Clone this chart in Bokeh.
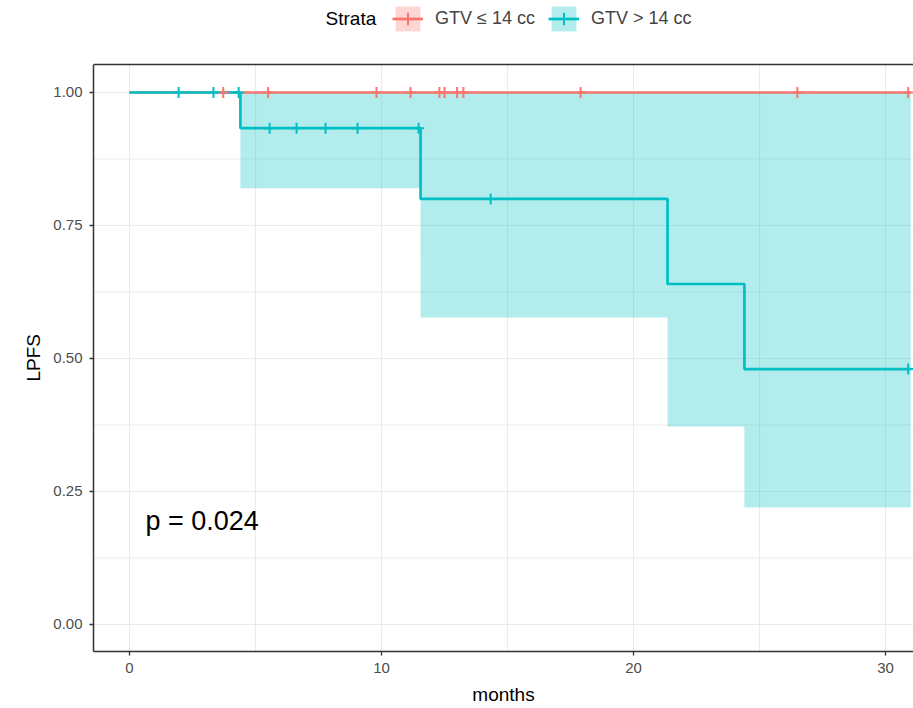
import numpy as np
from bokeh.plotting import figure
from bokeh.models import (Legend, LegendItem, FixedTicker, Range1d, Label, Span, Title)
from bokeh.embed import file_html
from bokeh.resources import INLINE

# ---------------- data ----------------
strata_title = "Strata"
strata = ["GTV ≤ 14 cc", "GTV > 14 cc"]

# GTV <= 14 cc
low_time = [0.0, 31.0]
low_surv = [1.0, 1.0]
low_lower = [1.0, 1.0]
low_upper = [1.0, 1.0]
low_censor = [3.72, 5.5, 9.8, 11.15, 12.3, 12.5, 13.0, 13.25, 17.9, 26.5, 30.9]

# GTV > 14 cc
high_time = [0.0, 4.4, 11.55, 21.35, 24.4, 31.0]
high_surv = [1.0, 0.933, 0.8, 0.64, 0.48, 0.48]
high_lower = [1.0, 0.82, 0.577, 0.372, 0.22, 0.22]
high_upper = [1.0, 1.0, 1.0, 1.0, 1.0, 1.0]
high_censor = [1.95, 3.33, 4.33, 5.56, 6.63, 7.78, 9.05, 11.47, 14.33, 30.9]

x_ticks = [0, 10, 20, 30]
y_ticks = [0.0, 0.25, 0.5, 0.75, 1.0]
y_tick_labels = ["0.00", "0.25", "0.50", "0.75", "1.00"]
x_label = "months"
y_label = "LPFS"
p_value_text = "p = 0.024"
p_value_pos = (0.63, 0.195)

# ---------------- style / layout ----------------
RED = "#F8766D"
TEAL = "#00BFC4"
FONT = "Liberation Sans"
BORDER = "#333333"
GRID = "#EBEBEB"

X_START, X_END = -1.4286, 31.11
Y_START, PANEL_TOP, CANVAS_TOP = -0.0508, 1.0526, 1.1729   # panel top; extra room above holds the legend

def surv_at(times, surv, t):
    idx = np.searchsorted(np.asarray(times), np.asarray(t), side="right") - 1
    return list(np.asarray(surv)[idx])

p = figure(width=913, height=708, output_backend="svg", toolbar_location=None,
           x_range=Range1d(X_START, X_END), y_range=Range1d(Y_START, CANVAS_TOP),
           min_border_left=93, min_border_right=0, min_border_top=0, min_border_bottom=57)
p.outline_line_color = None
p.background_fill_color = "white"
p.border_fill_color = "white"
p.grid.visible = False

x_minor = list((np.array(x_ticks[:-1]) + np.array(x_ticks[1:])) / 2)
y_minor = list((np.array(y_ticks[:-1]) + np.array(y_ticks[1:])) / 2)

p.xaxis.ticker = FixedTicker(ticks=x_ticks, minor_ticks=x_minor)
p.yaxis.ticker = FixedTicker(ticks=y_ticks, minor_ticks=y_minor)
p.yaxis.major_label_overrides = {t: l for t, l in zip(y_ticks, y_tick_labels)}
p.yaxis.bounds = (Y_START, PANEL_TOP)

for ax in (p.xaxis[0], p.yaxis[0]):
    ax.axis_line_color = BORDER
    ax.axis_line_width = 1.5
    ax.major_tick_line_color = BORDER
    ax.major_tick_line_width = 1.3
    ax.major_tick_out = 4
    ax.major_tick_in = 0
    ax.minor_tick_out = 0
    ax.minor_tick_in = 0
    ax.major_label_text_font = FONT
    ax.major_label_text_font_size = "15px"
    ax.major_label_text_color = "#4D4D4D"
    ax.axis_label_text_font = FONT
    ax.axis_label_text_font_size = "19px"
    ax.axis_label_text_font_style = "normal"
    ax.axis_label_text_color = "black"
    ax.major_label_standoff = 7

p.xaxis.axis_label = x_label
p.xaxis.axis_label_standoff = 8

# y-axis title, centred on the panel (not on the taller canvas)
ytitle = Title(text=y_label, align="left", offset=270, standoff=14,
               text_font=FONT, text_font_size="19px", text_font_style="normal",
               text_color="black")
p.add_layout(ytitle, "left")

# grid lines (major + minor), limited to the panel
gx = sorted(x_ticks + x_minor)
gy = sorted(y_ticks + y_minor)
p.segment(x0=gx, y0=[Y_START] * len(gx), x1=gx, y1=[PANEL_TOP] * len(gx),
          line_color=GRID, line_width=1.1)
p.segment(x0=[X_START] * len(gy), y0=gy, x1=[X_END] * len(gy), y1=gy,
          line_color=GRID, line_width=1.1)

# top border of the panel
p.add_layout(Span(location=PANEL_TOP, dimension="width", line_color=BORDER, line_width=1.5))

# ribbons
r_rib_low = p.varea_step(x=low_time, y1=low_lower, y2=low_upper, step_mode="after",
                         fill_color=RED, fill_alpha=0.3)
r_rib_high = p.varea_step(x=high_time, y1=high_lower, y2=high_upper, step_mode="after",
                          fill_color=TEAL, fill_alpha=0.3)

# curves
r_line_low = p.step(x=low_time, y=low_surv, mode="after", line_color=RED, line_width=2.7)
r_line_high = p.step(x=high_time, y=high_surv, mode="after", line_color=TEAL, line_width=2.7)

# censor marks
r_cen_low = p.scatter(x=low_censor, y=surv_at(low_time, low_surv, low_censor), marker="cross",
                      size=11, line_color=RED, line_width=2)
r_cen_high = p.scatter(x=high_censor, y=surv_at(high_time, high_surv, high_censor), marker="cross",
                       size=11, line_color=TEAL, line_width=2)

# p-value
p.add_layout(Label(x=p_value_pos[0], y=p_value_pos[1], text=p_value_text,
                   text_font=FONT, text_font_size="27px", text_color="black",
                   text_baseline="middle", text_align="left"))

# legend (title drawn as a label to its left)
p.add_layout(Label(x=7.78, y=1.139, text=strata_title, text_font=FONT, text_font_size="19px",
                   text_color="black", text_baseline="middle", text_align="left"))

legend = Legend(items=[
    LegendItem(label=strata[0], renderers=[r_rib_low, r_line_low, r_cen_low]),
    LegendItem(label=strata[1], renderers=[r_rib_high, r_line_high, r_cen_high]),
], orientation="horizontal", location=(299, 617))
legend.label_text_font = FONT
legend.label_text_font_size = "18px"
legend.label_standoff = 12
legend.glyph_width = 31
legend.glyph_height = 31
legend.label_height = 31
legend.spacing = 13
legend.padding = 0
legend.margin = 0
legend.border_line_color = None
legend.background_fill_alpha = 0
p.add_layout(legend, "center")

open("out.html", "w").write(file_html(p, INLINE))
